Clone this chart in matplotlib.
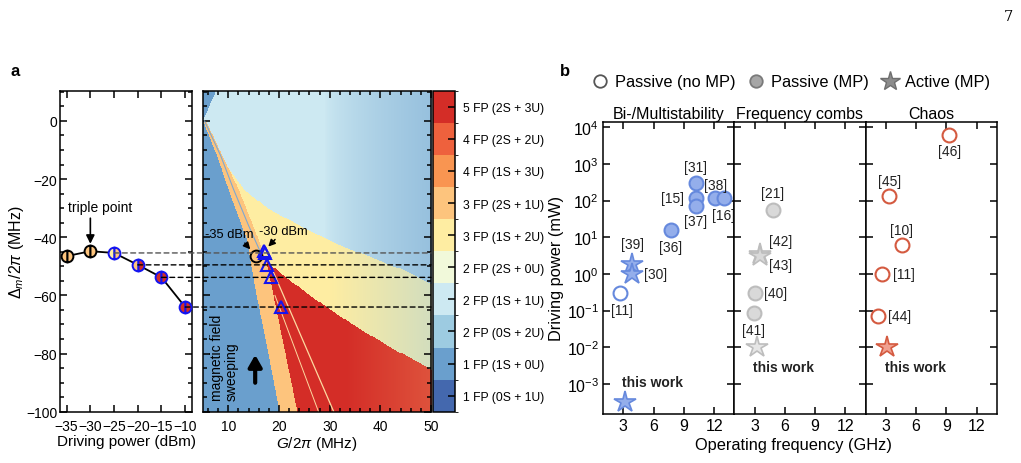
import numpy as np
import matplotlib
matplotlib.use("Agg")
import matplotlib.pyplot as plt
from matplotlib.colors import ListedColormap, BoundaryNorm, to_rgb
from matplotlib.cm import ScalarMappable
from matplotlib.lines import Line2D
from matplotlib.patches import ConnectionPatch
from matplotlib.ticker import MultipleLocator, NullLocator

plt.rcParams["font.family"] = ["Liberation Sans", "DejaVu Sans"]
plt.rcParams["mathtext.fontset"] = "custom"
plt.rcParams["mathtext.rm"] = "Liberation Sans"
plt.rcParams["mathtext.it"] = "Liberation Sans:italic"
plt.rcParams["axes.linewidth"] = 1.1

W, H = 1021, 464
BLUE_EDGE = "#1414f0"

# ---- panel a data ----
power_dbm = [-35, -30, -25, -20, -15, -10]
detuning = [-46.5, -44.8, -45.4, -49.5, -53.8, -64.0]
map_G = [15.5, 17.0, 17.2, 17.6, 18.5, 20.3]
dashed_from = [-25, -20, -15, -10]

phase_labels = ["1 FP (0S + 1U)", "1 FP (1S + 0U)", "2 FP (0S + 2U)", "2 FP (1S + 1U)",
                "2 FP (2S + 0U)", "3 FP (1S + 2U)", "3 FP (2S + 1U)", "4 FP (1S + 3U)",
                "4 FP (2S + 2U)", "5 FP (2S + 3U)"]
phase_colors = ["#4468ae", "#6a9fcd", "#9dcbe1", "#cde9f2", "#f1f9da",
                "#feeda2", "#fdc47d", "#f99551", "#ee613d", "#d42d27"]

# region boundaries (G in MHz, detuning in MHz)
blue_D = [10, 0.3, -12, -23.4, -40.7, -58, -78, -100]
blue_G = [7.4, 5.0, 7.8, 10.0, 13.6, 15.3, 17.6, 20.0]
orange_D = [0.3, -11, -23.4, -40.7, -48, -58, -100]
orange_G = [5.6, 8.6, 12.0, 15.9, 17.4, 18.6, 23.5]
yellow_G = [8.6, 10, 13, 17.6, 24.2, 30.8, 37.5, 44.1, 50]
yellow_D = [-11, -16, -23.4, -29.8, -36.1, -41.8, -46.4, -51, -56]
red_G = [17.4, 20, 26, 34, 42, 50]
red_D = [-48, -52, -60, -69.5, -78, -85.5]
thin_G = [5.3, 8.5, 11.0, 14.0, 16.3]
thin_D = [0, -12, -23.4, -36, -45]
streak1_G = [18.4, 30.8]; streak1_D = [-50, -100]
streak2_G = [19.2, 27.8]; streak2_D = [-60, -100]

# ---- panel b data ----
bi_ref = ["[31]", "[15]", "[37]", "[38]", "[16]", "[36]", "[11]"]
bi_f = [10.2, 10.2, 10.2, 12.1, 13.0, 7.75, 2.7]
bi_p = [300, 120, 70, 120, 115, 16, 0.3]
bi_star_ref = ["[39]", "[30]"]
bi_star_f = [3.9, 3.9]
bi_star_p = [1.9, 1.0]
bi_this = (3.2, 3.2e-4)

fc_ref = ["[21]", "[40]", "[41]"]
fc_f = [4.8, 3.0, 2.95]
fc_p = [55, 0.3, 0.085]
fc_star_ref = ["[42]", "[43]"]
fc_star_f = [3.5, 3.5]
fc_star_p = [3.4, 3.1]
fc_this = (3.2, 0.01)

ch_ref = ["[46]", "[45]", "[10]", "[11]", "[44]"]
ch_f = [9.3, 3.35, 4.6, 2.6, 2.2]
ch_p = [6000, 130, 6.0, 1.0, 0.072]
ch_this = (3.15, 0.01)

power_decades = [1e-3, 1e-2, 1e-1, 1e0, 1e1, 1e2, 1e3, 1e4]


def rect(x0, y0, x1, y1):
    return [x0 / W, 1 - y1 / H, (x1 - x0) / W, (y1 - y0) / H]


fig = plt.figure(figsize=(W / 100, H / 100), dpi=100)
ax_l = fig.add_axes(rect(60, 91.7, 192.3, 412.7))
ax_m = fig.add_axes(rect(203, 91.7, 431, 412.7))
cax = fig.add_axes(rect(433, 91.7, 454.5, 412.7))

# ---- left: triple point curve ----
ax_l.plot(power_dbm, detuning, color="k", lw=1.3, zorder=2)
faces = ["#fdc47d", "#fdc47d", "#feeda2", "#fdc47d", "#d42d27", "#d42d27"]
faces_alt = ["#fdc47d", "#fdc47d", "#fdc47d", "#d42d27", "#d42d27", "#d42d27"]
edges = ["k", "k", BLUE_EDGE, BLUE_EDGE, BLUE_EDGE, BLUE_EDGE]
for p, d, fc, fa, ec in zip(power_dbm, detuning, faces, faces_alt, edges):
    ax_l.plot(p, d, "o", ms=8.5, mfc=fc, mfcalt=fa, fillstyle="left", mec=ec, mew=1.4, zorder=3)
ax_l.set_xlim(-36.4, -8.5)
ax_l.set_ylim(-100, 10.4)
ax_l.set_xticks(power_dbm)
ax_l.set_xticklabels(["\u221235", "\u221230", "\u221225", "\u221220", "\u221215", "\u221210"])
ax_l.yaxis.set_major_locator(MultipleLocator(20))
ax_l.yaxis.set_minor_locator(MultipleLocator(5))
ax_l.tick_params(which="both", direction="in", top=True, right=True, labelsize=10, width=1.1)
ax_l.tick_params(which="major", length=5)
ax_l.tick_params(which="minor", length=3)
ax_l.tick_params(axis="y", pad=2)
ax_l.tick_params(axis="x", pad=5)
ax_l.set_xlabel("Driving power (dBm)", fontsize=11)
ax_l.set_ylabel(r"$\Delta_m/2\pi$ (MHz)", fontsize=11.5)
ax_l.xaxis.set_label_coords(0.5, -0.07)
ax_l.yaxis.set_label_coords(-0.255, 0.5)
ax_l.text(-28.0, -29.5, "triple point", ha="center", va="center", fontsize=10)
ax_l.annotate("", xy=(-30, -43.2), xytext=(-30, -32.5),
              arrowprops=dict(arrowstyle="-|>,head_width=0.25,head_length=0.5", color="k", lw=1.2))

# ---- phase map ----
g = np.linspace(5, 50, 460)
dd = np.linspace(-100, 10.4, 340)
GG, DD = np.meshgrid(g, dd)
idx = np.full(GG.shape, 3)
orange_right = np.interp(DD, orange_D[::-1], orange_G[::-1])
yel_top = np.interp(GG, yellow_G, yellow_D)
idx[(DD < yel_top) & (GG > orange_right) & (DD < -11)] = 5
red_top = np.interp(GG, red_G, red_D)
idx[(DD < red_top) & (GG > orange_right) & (DD < -48)] = 9
idx[(GG <= orange_right) & (DD <= 0.3)] = 6
idx[GG < np.interp(DD, blue_D[::-1], blue_G[::-1])] = 1
rgb = np.array([to_rgb(c) for c in phase_colors])[idx]


def blend(mask, target, w):
    t = np.array(to_rgb(target))
    w = np.where(mask, w, 0)[..., None]
    return rgb * (1 - w) + t * w


rgb = blend(idx == 3, "#6a9fcd", np.clip((GG - 29) / 21, 0, 1) ** 0.7 * 0.55)
rgb = blend(idx == 5, "#9dcbe1", np.clip((GG - 30) / 20, 0, 1) * 0.45)
rgb = blend(idx == 9, "#fdc47d", np.clip((GG - 33) / 17, 0, 1) * 0.25)
ax_m.imshow(rgb, extent=[5, 50, -100, 10.4], origin="lower", aspect="auto", interpolation="nearest")
ax_m.plot(thin_G, thin_D, color="#7fa8d0", lw=0.8)
ax_m.plot(streak1_G, streak1_D, color="#fdd9a0", lw=0.9)
ax_m.plot(streak2_G, streak2_D, color="#fdd9a0", lw=0.7)

ax_m.plot(map_G[0], detuning[0], "o", ms=8.5, mfc="none", mec="k", mew=1.4, zorder=4)
ax_m.plot(map_G[1:], detuning[1:], "^", ms=8.5, mfc="none", mec=BLUE_EDGE, mew=1.5, ls="none", zorder=4)
ax_m.text(10.2, -39, "-35 dBm", ha="center", va="center", fontsize=9.3)
ax_m.text(20.9, -37.8, "-30 dBm", ha="center", va="center", fontsize=9.3)
ax_m.annotate("", xy=(14.7, -44.9), xytext=(12.9, -41.3),
              arrowprops=dict(arrowstyle="-|>,head_width=0.2,head_length=0.4", color="k", lw=1.1))
ax_m.annotate("", xy=(17.5, -43.9), xytext=(19.6, -40.1),
              arrowprops=dict(arrowstyle="-|>,head_width=0.2,head_length=0.4", color="k", lw=1.1))
ax_m.text(9.2, -95.9, "magnetic field\nsweeping", rotation=90, ha="center", va="bottom",
          multialignment="left", fontsize=10, linespacing=1.05)
ax_m.annotate("", xy=(15.3, -79.5), xytext=(15.3, -91),
              arrowprops=dict(arrowstyle="-|>,head_width=0.4,head_length=0.7", color="k", lw=3))
ax_m.set_xlim(5, 50)
ax_m.set_ylim(-100, 10.4)
ax_m.xaxis.set_major_locator(MultipleLocator(10))
ax_m.xaxis.set_minor_locator(MultipleLocator(2))
ax_m.yaxis.set_major_locator(MultipleLocator(20))
ax_m.yaxis.set_minor_locator(MultipleLocator(5))
ax_m.tick_params(which="both", direction="in", top=True, right=True, labelleft=False,
                 labelsize=10, width=1.1, pad=5)
ax_m.tick_params(which="major", length=5)
ax_m.tick_params(which="minor", length=3)
ax_m.set_xlabel(r"$G/2\pi$ (MHz)", fontsize=11)
ax_m.xaxis.set_label_coords(0.5, -0.07)

for p in dashed_from:
    i = power_dbm.index(p)
    col = "#555555" if p == -25 else "k"
    con = ConnectionPatch(xyA=(p, detuning[i]), coordsA=ax_l.transData,
                          xyB=(50, detuning[i]), coordsB=ax_m.transData,
                          color=col, lw=1.0, ls=(0, (3.5, 2.5)), zorder=5)
    fig.add_artist(con)

cmap = ListedColormap(phase_colors)
norm = BoundaryNorm(np.arange(11), 10)
cb = fig.colorbar(ScalarMappable(norm=norm, cmap=cmap), cax=cax, ticks=np.arange(10) + 0.5)
cb.set_ticklabels(phase_labels)
cb.outline.set_linewidth(1.1)
cax.tick_params(direction="in", length=5, width=1.1, labelsize=8.7, pad=6)

# ---- panel b ----
axb = [fig.add_axes(rect(603 + i * 131.3, 122.7, 603 + (i + 1) * 131.3, 415)) for i in range(3)]
titles = ["Bi-/Multistability", "Frequency combs", "Chaos"]
for i, ax in enumerate(axb):
    ax.set_yscale("log")
    ax.set_xlim(1, 14)
    ax.set_ylim(10 ** -3.82, 10 ** 4.15)
    ax.set_xticks([3, 6, 9, 12])
    ax.set_yticks(power_decades)
    ax.yaxis.set_minor_locator(NullLocator())
    ax.tick_params(direction="in", top=True, right=True, length=5, width=1.1, labelsize=11.5, pad=3)
    if i > 0:
        ax.tick_params(labelleft=False)
    ax.set_title(titles[i], fontsize=11.5, pad=3)

BLUE_F, BLUE_E = "#94aeeb", "#6689dd"
GREY_F, GREY_E = "#d9d9d9", "#bdbdbd"
RED_E, RED_F = "#d45a40", "#f0a090"


def tag(ax, x, y, s, dx, dy, **kw):
    ax.annotate(s, (x, y), xytext=(dx, dy), textcoords="offset pixels", ha="center",
                va="center", fontsize=10, color="#222222", **kw)


a1, a2, a3 = axb
for f, p, r in zip(bi_f, bi_p, bi_ref):
    filled = r != "[11]"
    a1.plot(f, p, "o", ms=10, mfc=BLUE_F if filled else "white", mec=BLUE_E, mew=1.5, clip_on=False)
for f, p in zip(bi_star_f, bi_star_p):
    a1.plot(f, p, "*", ms=16, mfc=BLUE_F, mec=BLUE_E, mew=1.2)
a1.plot(*bi_this, "*", ms=16, mfc=BLUE_F, mec=BLUE_E, mew=1.2)
offs1 = {"[31]": (0, 16), "[15]": (-23, 0), "[37]": (0, -15), "[38]": (0, 13),
         "[16]": (-1, -17), "[36]": (-1, -17), "[11]": (2, -17)}
for f, p, r in zip(bi_f, bi_p, bi_ref):
    tag(a1, f, p, r, *offs1[r])
tag(a1, bi_star_f[0], bi_star_p[0], "[39]", 0, 20)
tag(a1, bi_star_f[1], bi_star_p[1], "[30]", 23, 0)
tag(a1, *bi_this, "this work", 27, 20, fontweight="bold")

for f, p in zip(fc_f, fc_p):
    a2.plot(f, p, "o", ms=10, mfc=GREY_F, mec=GREY_E, mew=1.5)
for f, p in zip(fc_star_f, fc_star_p):
    a2.plot(f, p, "*", ms=16, mfc=GREY_F, mec=GREY_E, mew=1.2)
a2.plot(*fc_this, "*", ms=16, mfc="#e6e6e6", mec=GREY_E, mew=1.2)
offs2 = {"[21]": (0, 17), "[40]": (21, 0), "[41]": (0, -17)}
for f, p, r in zip(fc_f, fc_p, fc_ref):
    tag(a2, f, p, r, *offs2[r])
tag(a2, fc_star_f[0], fc_star_p[0], "[42]", 21, 13)
tag(a2, fc_star_f[1], fc_star_p[1], "[43]", 21, -9)
tag(a2, *fc_this, "this work", 27, -20, fontweight="bold")

for f, p in zip(ch_f, ch_p):
    a3.plot(f, p, "o", ms=10, mfc="white", mec=RED_E, mew=1.5, clip_on=False)
a3.plot(*ch_this, "*", ms=16, mfc=RED_F, mec=RED_E, mew=1.2)
offs3 = {"[46]": (0, -16), "[45]": (0, 15), "[10]": (0, 15), "[11]": (22, 0), "[44]": (22, 0)}
for f, p, r in zip(ch_f, ch_p, ch_ref):
    tag(a3, f, p, r, *offs3[r])
tag(a3, *ch_this, "this work", 28, -20, fontweight="bold")

a1.set_ylabel("Driving power (mW)", fontsize=11.8)
a1.yaxis.set_label_coords(-0.30, 0.5)
fig.text(793 / W, 1 - 446 / H, "Operating frequency (GHz)", ha="center", va="center", fontsize=11.8)

handles = [Line2D([], [], ls="none", marker="o", ms=9, mfc="white", mec="#555555", mew=1.3),
           Line2D([], [], ls="none", marker="o", ms=9, mfc="#a6a6a6", mec="#7a7a7a", mew=1.3),
           Line2D([], [], ls="none", marker="*", ms=15, mfc="#8c8c8c", mec="#6e6e6e", mew=1)]
fig.legend(handles, ["Passive (no MP)", "Passive (MP)", "Active (MP)"], loc="center",
           bbox_to_anchor=(789.5 / W, 1 - 83 / H), ncol=3, frameon=False, fontsize=11.8,
           handletextpad=0.25, columnspacing=0.65, handlelength=1.3)

fig.text(10 / W, 1 - 72 / H, "a", fontsize=12, fontweight="bold", va="center")
fig.text(560 / W, 1 - 72 / H, "b", fontsize=12, fontweight="bold", va="center")
fig.text(1008 / W, 1 - 17 / H, "7", fontsize=10.5, ha="center", va="center", family="DejaVu Serif")

fig.savefig("out.png", dpi=100)
